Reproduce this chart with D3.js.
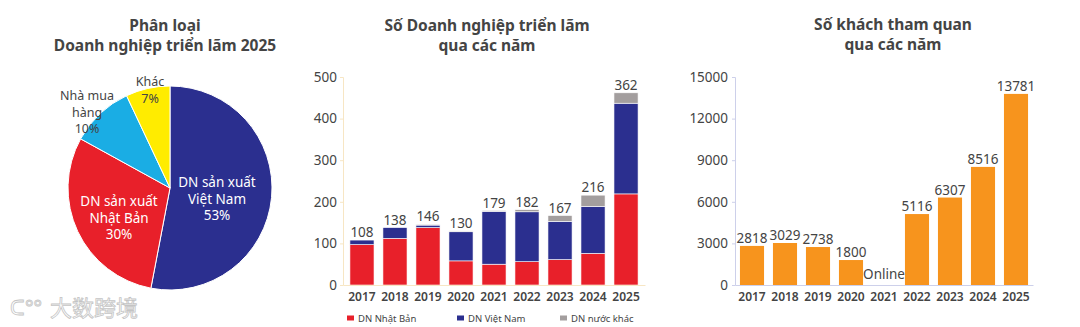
<!DOCTYPE html>
<html><head><meta charset="utf-8">
<script src="https://cdn.jsdelivr.net/npm/d3@7"></script>
<style>
html,body{margin:0;padding:0;background:#fff;}
svg{display:block;font-family:"Noto Sans","Open Sans",sans-serif;}
</style></head>
<body>
<svg id="c" width="1080" height="327"></svg>
<script>
// ---------- DATA ----------
const pieLabels = [["DN sản xuất","Việt Nam","53%"],["DN sản xuất","Nhật Bản","30%"],["Nhà mua","hàng","10%"],["Khác","7%"]];
const pieValues = [53, 30, 10, 7];
const pieColors = ["#2B2F8F","#E8202A","#1AADE4","#FFEC00"];

const years = ["2017","2018","2019","2020","2021","2022","2023","2024","2025"];
const dnJapan = [97, 112, 138, 58, 50, 56, 61, 76, 219];
const dnVietnam = [11, 26, 6, 70, 127, 120, 92, 113, 218];
const dnOther = [0, 0, 2, 2, 2, 5, 14, 27, 25];
const dnTotalLabels = ["108","138","146","130","179","182","167","216","362"];
const dnSeriesNames = ["DN Nhật Bản","DN Việt Nam","DN nước khác"];
const dnColors = ["#E8202A","#2B2F8F","#A39E9E"];
const dnTicks = [0,100,200,300,400,500];

const visitors = [2818, 3029, 2738, 1800, 0, 5116, 6307, 8516, 13781];
const visitorLabels = ["2818","3029","2738","1800","Online","5116","6307","8516","13781"];
const visitorTicks = [0,3000,6000,9000,12000,15000];

// ---------- DRAW ----------
const svg = d3.select("#c");
const txt = "#444";

function title(x, lines, y0){
  const t = svg.append("text").attr("text-anchor","middle").attr("fill",txt)
    .attr("font-size",15.5).attr("font-weight",700);
  lines.forEach((l,i)=>t.append("tspan").attr("x",x).attr("y",y0+i*20).text(l));
}
title(165, ["Phân loại","Doanh nghiệp triển lãm 2025"], 31);
title(487, ["Số Doanh nghiệp triển lãm","qua các năm"], 31);
title(893, ["Số khách tham quan","qua các năm"], 30);

// Pie
const pcx = 170, pcy = 188, pr = 102;
const pie = d3.pie().sort(null).value(d=>d)(pieValues);
const arc = d3.arc().innerRadius(0).outerRadius(pr);
const pg = svg.append("g").attr("transform",`translate(${pcx},${pcy})`);
pg.selectAll("path").data(pie).join("path").attr("d",arc)
  .attr("fill",(d,i)=>pieColors[i]).attr("stroke","#fff").attr("stroke-width",1);
const pieLabelPos = [[47,-1,"#fff",13.5],[-51,18,"#fff",13.5],[-83,-88,txt,12.5],[-20,-102,txt,12.5]];
pieLabels.forEach((lines,i)=>{
  const [dx,dy,col,fs] = pieLabelPos[i];
  const t = pg.append("text").attr("text-anchor","middle").attr("fill",col).attr("font-size",fs);
  lines.forEach((l,j)=>t.append("tspan").attr("x",dx).attr("y",dy+j*16.5).text(l));
});

// Stacked bar chart
const x1 = d3.scaleBand().domain(years).range([343,645]).paddingInner(0.27).paddingOuter(0.21);
const y1 = d3.scaleLinear().domain([0,500]).range([285,77]);
const stackData = years.map((y,i)=>({year:y, a:dnJapan[i], b:dnVietnam[i], c:dnOther[i]}));
const stack = d3.stack().keys(["a","b","c"])(stackData);
const g1 = svg.append("g");
g1.selectAll("g.s").data(stack).join("g").attr("fill",(d,i)=>dnColors[i])
  .selectAll("rect").data(d=>d).join("rect")
  .attr("x",d=>x1(d.data.year)).attr("width",x1.bandwidth())
  .attr("y",d=>y1(d[1])).attr("height",d=>Math.max(0,y1(d[0])-y1(d[1])))
  .attr("stroke","#fff").attr("stroke-width",0.6);
const ax1 = svg.append("g").attr("transform","translate(343,0)")
  .call(d3.axisLeft(y1).tickValues(dnTicks).tickSize(3).tickPadding(3));
ax1.select(".domain").attr("stroke","#F7E6C4");
ax1.selectAll(".tick line").attr("stroke","#F7E6C4");
ax1.selectAll("text").attr("font-size",13.5).attr("fill",txt).attr("font-family","Noto Sans");
const bx1 = svg.append("g").attr("transform","translate(0,285)")
  .call(d3.axisBottom(x1).tickSize(0).tickPadding(7));
bx1.select(".domain").attr("stroke","#F7E6C4");
bx1.selectAll("text").attr("font-size",12).attr("font-weight",600).attr("fill",txt).attr("font-family","Noto Sans");
g1.selectAll("text.v").data(years).join("text")
  .attr("x",d=>x1(d)+x1.bandwidth()/2)
  .attr("y",(d,i)=>y1(dnJapan[i]+dnVietnam[i]+dnOther[i])-3)
  .attr("text-anchor","middle").attr("font-size",13.5).attr("fill",txt)
  .text((d,i)=>dnTotalLabels[i]);
// legend
const legX = [347,457,560];
dnSeriesNames.forEach((n,i)=>{
  svg.append("rect").attr("x",legX[i]).attr("y",315.5).attr("width",7).attr("height",5).attr("fill",dnColors[i]);
  svg.append("text").attr("x",legX[i]+11).attr("y",321.5).attr("font-size",9.5).attr("fill",txt).text(n);
});

// Visitors chart
const x2 = d3.scaleBand().domain(years).range([735,1033]).paddingInner(0.27).paddingOuter(0.15);
const y2 = d3.scaleLinear().domain([0,15000]).range([285,77]);
const g2 = svg.append("g");
g2.selectAll("rect").data(visitors).join("rect")
  .attr("x",(d,i)=>x2(years[i])).attr("width",x2.bandwidth())
  .attr("y",d=>y2(d)).attr("height",d=>y2(0)-y2(d)).attr("fill","#F7941D");
const ax2 = svg.append("g").attr("transform","translate(735,0)")
  .call(d3.axisLeft(y2).tickValues(visitorTicks).tickFormat(d3.format("d")).tickSize(3).tickPadding(4));
ax2.select(".domain").attr("stroke","#CDD0EA");
ax2.selectAll(".tick line").attr("stroke","#CDD0EA");
ax2.selectAll("text").attr("font-size",13.5).attr("fill",txt).attr("font-family","Noto Sans");
const bx2 = svg.append("g").attr("transform","translate(0,285)")
  .call(d3.axisBottom(x2).tickSize(0).tickPadding(7));
bx2.select(".domain").attr("stroke","#CDD0EA");
bx2.selectAll("text").attr("font-size",12).attr("font-weight",600).attr("fill",txt).attr("font-family","Noto Sans");
g2.selectAll("text.v").data(visitors).join("text")
  .attr("x",(d,i)=>x2(years[i])+x2.bandwidth()/2)
  .attr("y",(d,i)=>d>0 ? y2(d)-3 : y2(0)-6)
  .attr("text-anchor","middle").attr("font-size",13.5).attr("fill",txt)
  .text((d,i)=>visitorLabels[i]);

// watermark
svg.append("text").attr("x",10).attr("y",315).attr("font-size",20).attr("fill","#fff")
  .attr("stroke","#c4c4c4").attr("stroke-width",0.8).attr("font-family","Noto Sans")
  .text("ᑕ°°");
svg.append("text").attr("x",50).attr("y",316).attr("font-size",22).attr("fill","#fff")
  .attr("stroke","#c4c4c4").attr("stroke-width",0.8).attr("font-family","Noto Sans CJK SC")
  .text("大数跨境");
</script>
</body></html>
